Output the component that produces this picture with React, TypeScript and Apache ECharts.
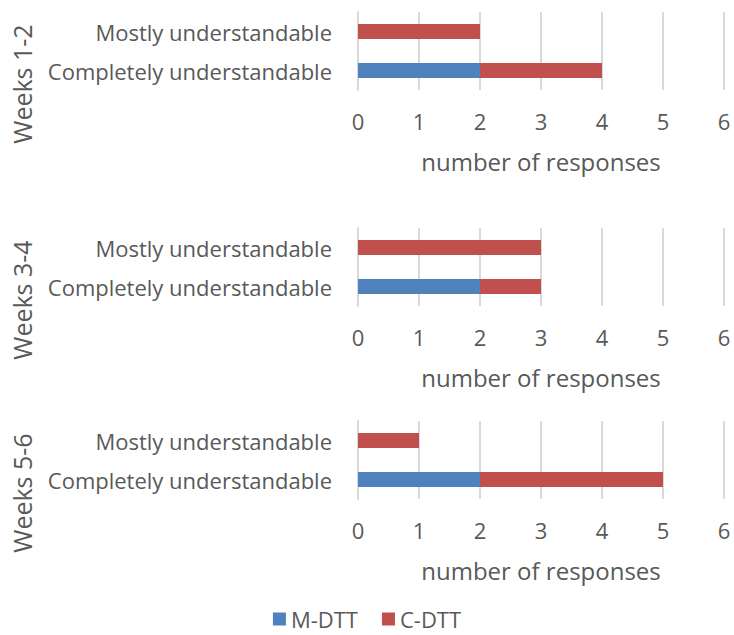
import React, { useEffect, useRef } from "react";
import * as echarts from "echarts";

const categories = ["Completely understandable", "Mostly understandable"];
const periods = ["Weeks 1-2", "Weeks 3-4", "Weeks 5-6"];
const seriesNames = ["M-DTT", "C-DTT"];
const mdtt1 = [2, 0];
const cdtt1 = [2, 2];
const mdtt2 = [2, 0];
const cdtt2 = [1, 3];
const mdtt3 = [2, 0];
const cdtt3 = [3, 1];
const xMin = 0;
const xMax = 6;
const xInterval = 1;
const axisName = "number of responses";

const panelData = [
  [mdtt1, cdtt1],
  [mdtt2, cdtt2],
  [mdtt3, cdtt3],
];

const colors = ["#4F81BD", "#C0504D"];
const textColor = "#595959";
const font = "'Open Sans', sans-serif";
const gridTops = [12, 228, 421];
const gridHeight = 78;
const gridLeft = 358;
const gridWidth = 366;

export default function App() {
  const ref = useRef<HTMLDivElement>(null);
  useEffect(() => {
    if (!ref.current) return;
    const chart = echarts.init(ref.current, undefined, { renderer: "svg" });
    const grid = gridTops.map((t) => ({
      left: gridLeft,
      top: t,
      width: gridWidth,
      height: gridHeight,
      containLabel: false,
    }));
    const xAxis = gridTops.map((_, i) => ({
      type: "value",
      gridIndex: i,
      min: xMin,
      max: xMax,
      interval: xInterval,
      axisLine: { show: false },
      axisTick: { show: false },
      splitLine: { show: true, lineStyle: { color: "#d9d9d9", width: 2 } },
      axisLabel: { color: textColor, fontSize: 22, fontFamily: font, margin: 20 },
      name: axisName,
      nameLocation: "middle",
      nameGap: 59,
      nameTextStyle: { color: textColor, fontSize: 24, fontFamily: font },
    }));
    const yAxis = gridTops.map((_, i) => ({
      type: "category",
      gridIndex: i,
      data: categories,
      axisLine: { show: true, lineStyle: { color: "#d9d9d9", width: 2 } },
      axisTick: { show: false },
      splitLine: { show: false },
      axisLabel: { color: textColor, fontSize: 22, fontFamily: font, margin: 26 },
    }));
    const series: any[] = [];
    panelData.forEach((pd, i) => {
      pd.forEach((vals, j) => {
        series.push({
          type: "bar",
          name: seriesNames[j],
          xAxisIndex: i,
          yAxisIndex: i,
          stack: "s" + i,
          data: vals,
          barWidth: 15,
          itemStyle: { color: colors[j] },
        });
      });
    });
    const graphic = periods.map((p, i) => ({
      type: "text",
      x: 22,
      y: gridTops[i] + 72,
      rotation: Math.PI / 2,
      style: {
        text: p,
        fill: textColor,
        fontSize: 25,
        fontFamily: font,
        align: "center",
        verticalAlign: "middle",
      },
    }));
    chart.setOption({
      animation: false,
      color: colors,
      grid,
      xAxis,
      yAxis,
      series,
      graphic,
      legend: {
        data: seriesNames,
        bottom: 0,
        left: "center",
        icon: "rect",
        itemWidth: 13,
        itemHeight: 13,
        itemGap: 24,
        textStyle: { color: textColor, fontSize: 22, fontFamily: font },
      },
    });
    return () => chart.dispose();
  }, []);
  return (
    <div
      ref={ref}
      style={{ position: "fixed", left: 0, top: 0, width: 734, height: 635, background: "#fff" }}
    />
  );
}
